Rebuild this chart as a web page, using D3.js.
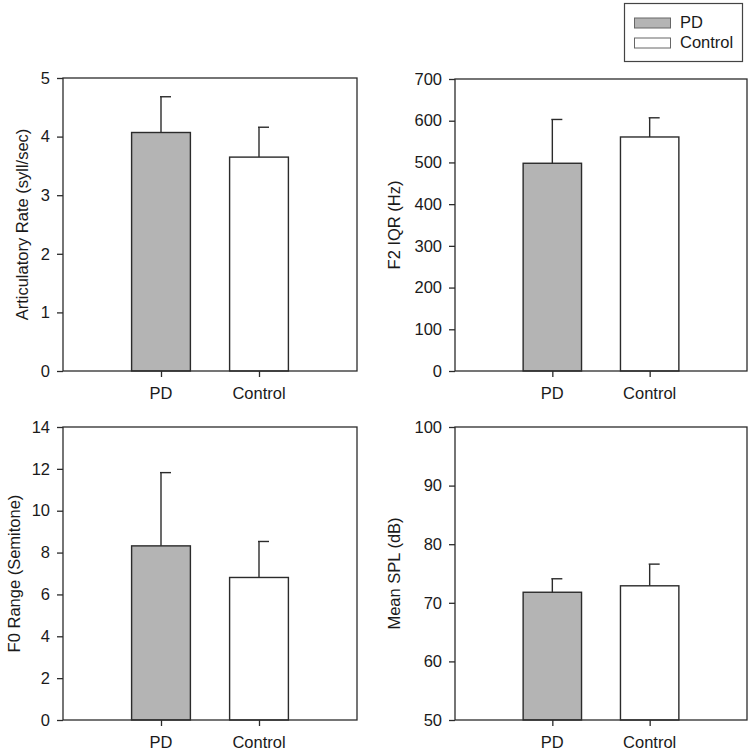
<!DOCTYPE html>
<html>
<head>
<meta charset="utf-8">
<script src="https://cdn.jsdelivr.net/npm/d3@7"></script>
<style>
  html, body { margin: 0; padding: 0; background: #fff; }
  svg { display: block; font-family: Arial, "Liberation Sans", Helvetica, sans-serif; }
</style>
</head>
<body>
<svg id="chart" width="752" height="752"></svg>
<script>
// ---- data ----
const groups = ["PD", "Control"];
const legendLabels = ["PD", "Control"];

const articRateMean = [4.07, 3.65];
const articRateErr  = [0.61, 0.51];
const articRateTicks = [0, 1, 2, 3, 4, 5];

const f2IqrMean = [498, 561];
const f2IqrErr  = [105, 46];
const f2IqrTicks = [0, 100, 200, 300, 400, 500, 600, 700];

const f0RangeMean = [8.32, 6.81];
const f0RangeErr  = [3.50, 1.72];
const f0RangeTicks = [0, 2, 4, 6, 8, 10, 12, 14];

const splMean = [71.8, 72.9];
const splErr  = [2.3, 3.7];
const splTicks = [50, 60, 70, 80, 90, 100];

const titles = ["Articulatory Rate (syll/sec)", "F2 IQR (Hz)", "F0 Range (Semitone)", "Mean SPL (dB)"];

// ---- layout / style ----
const fills = ["#b4b4b4", "#ffffff"];
const ink = "#2b2b2b";
const txt = "#1a1a1a";
const fontSize = 16.5;

const panels = [
  {mean: articRateMean, err: articRateErr, ticks: articRateTicks, title: titles[0],
   x0: 63, x1: 357, y0: 78, y1: 371, titleX: 21.5, labelY: 399},
  {mean: f2IqrMean, err: f2IqrErr, ticks: f2IqrTicks, title: titles[1],
   x0: 455, x1: 747, y0: 79, y1: 371, titleX: 393.5, labelY: 399},
  {mean: f0RangeMean, err: f0RangeErr, ticks: f0RangeTicks, title: titles[2],
   x0: 63, x1: 357, y0: 427, y1: 720, titleX: 13.5, labelY: 748},
  {mean: splMean, err: splErr, ticks: splTicks, title: titles[3],
   x0: 455, x1: 747, y0: 427, y1: 720, titleX: 393.5, labelY: 748}
];

const svg = d3.select("#chart");

panels.forEach(p => {
  const g = svg.append("g");
  const x = d3.scaleLinear().domain([0, groups.length + 1]).range([p.x0, p.x1]);
  const y = d3.scaleLinear().domain([p.ticks[0], p.ticks[p.ticks.length - 1]]).range([p.y1, p.y0]);
  const barW = x(0.6) - x(0);
  const cap = 11;

  // bars
  g.selectAll("rect.bar").data(groups).join("rect")
    .attr("class", "bar")
    .attr("x", (d, i) => x(i + 1) - barW / 2)
    .attr("y", (d, i) => y(p.mean[i]))
    .attr("width", barW)
    .attr("height", (d, i) => y(p.ticks[0]) - y(p.mean[i]))
    .attr("fill", (d, i) => fills[i])
    .attr("stroke", ink)
    .attr("stroke-width", 1.4);

  // error bars (upper only)
  groups.forEach((d, i) => {
    const cx = x(i + 1);
    g.append("line")
      .attr("x1", cx).attr("x2", cx)
      .attr("y1", y(p.mean[i])).attr("y2", y(p.mean[i] + p.err[i]))
      .attr("stroke", ink).attr("stroke-width", 1.4);
    g.append("line")
      .attr("x1", cx - 1).attr("x2", cx + cap - 1)
      .attr("y1", y(p.mean[i] + p.err[i])).attr("y2", y(p.mean[i] + p.err[i]))
      .attr("stroke", ink).attr("stroke-width", 1.4);
  });

  // frame
  g.append("rect")
    .attr("x", p.x0).attr("y", p.y0)
    .attr("width", p.x1 - p.x0).attr("height", p.y1 - p.y0)
    .attr("fill", "none").attr("stroke", ink).attr("stroke-width", 1.3);

  // y axis
  const yAxis = d3.axisLeft(y).tickValues(p.ticks).tickFormat(d3.format("d"))
    .tickSize(6).tickPadding(7).tickSizeOuter(0);
  const ya = g.append("g").attr("transform", `translate(${p.x0},0)`).call(yAxis);
  ya.select(".domain").remove();
  ya.selectAll("line").attr("stroke", ink).attr("stroke-width", 1.3);
  ya.selectAll("text").attr("fill", txt).attr("font-size", fontSize)
    .attr("font-family", "Arial, 'Liberation Sans', sans-serif");

  // x axis
  const xAxis = d3.axisBottom(x).tickValues(groups.map((d, i) => i + 1))
    .tickFormat((d) => groups[d - 1]).tickSize(6).tickSizeOuter(0).tickPadding(0);
  const xa = g.append("g").attr("transform", `translate(0,${p.y1})`).call(xAxis);
  xa.select(".domain").remove();
  xa.selectAll("line").attr("stroke", ink).attr("stroke-width", 1.3);
  xa.selectAll("text").remove();
  g.selectAll("text.xl").data(groups).join("text")
    .attr("class", "xl")
    .attr("x", (d, i) => x(i + 1))
    .attr("y", p.labelY)
    .attr("text-anchor", "middle")
    .attr("font-size", fontSize)
    .attr("fill", txt)
    .text(d => d);

  // y title
  g.append("text")
    .attr("transform", `translate(${p.titleX},${(p.y0 + p.y1) / 2}) rotate(-90)`)
    .attr("text-anchor", "middle")
    .attr("dominant-baseline", "central")
    .attr("font-size", fontSize)
    .attr("fill", txt)
    .text(p.title);
});

// legend
const lg = svg.append("g");
lg.append("rect").attr("x", 624.5).attr("y", 3.5).attr("width", 118).attr("height", 58)
  .attr("fill", "#fff").attr("stroke", "#444").attr("stroke-width", 1.2);
legendLabels.forEach((d, i) => {
  lg.append("rect").attr("x", 634.5).attr("y", 18 + i * 20).attr("width", 36).attr("height", 10)
    .attr("fill", fills[i]).attr("stroke", "#666").attr("stroke-width", 1);
  lg.append("text").attr("x", 680).attr("y", 28 + i * 20)
    .attr("font-size", fontSize).attr("fill", txt).text(d);
});
</script>
</body>
</html>
